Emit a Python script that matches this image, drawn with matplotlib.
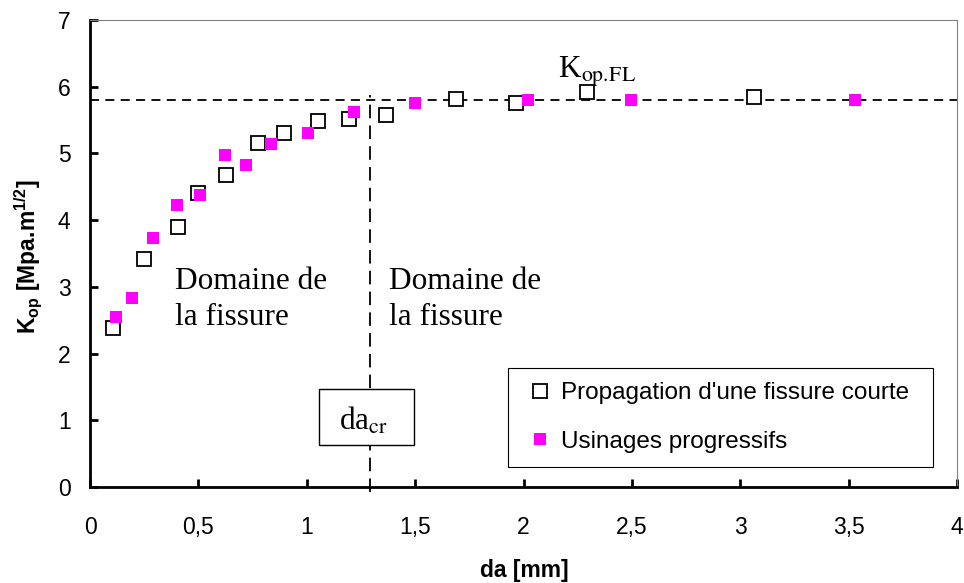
"""
Kop versus da: short crack propagation vs progressive machining.
"""
import matplotlib
matplotlib.use('Agg')
import matplotlib.pyplot as plt
from matplotlib.patches import Rectangle

plt.rcParams['font.family'] = ['Liberation Sans', 'DejaVu Sans']
plt.rcParams['mathtext.fontset'] = 'custom'
plt.rcParams['mathtext.rm'] = 'Liberation Sans'
plt.rcParams['mathtext.bf'] = 'Liberation Sans:bold'

# 1. Data
da_court = [0.107, 0.25, 0.405, 0.498, 0.626, 0.777, 0.897, 1.05, 1.196, 1.367,
            1.687, 1.965, 2.294, 3.063]
kop_court = [2.38, 3.42, 3.90, 4.40, 4.67, 5.15, 5.30, 5.49, 5.52, 5.57,
             5.82, 5.75, 5.92, 5.84]

da_usin = [0.12, 0.192, 0.292, 0.40, 0.507, 0.623, 0.72, 0.837, 1.004, 1.219,
           1.498, 2.019, 2.496, 3.53]
kop_usin = [2.55, 2.83, 3.73, 4.23, 4.37, 4.98, 4.83, 5.14, 5.30, 5.62,
            5.75, 5.80, 5.80, 5.80]

kop_fl = 5.80
da_cr = 1.29

xticks = [0, 0.5, 1, 1.5, 2, 2.5, 3, 3.5, 4]
xticklabels = ['0', '0,5', '1', '1,5', '2', '2,5', '3', '3,5', '4']
yticks = [0, 1, 2, 3, 4, 5, 6, 7]

# 2. Figure
fig = plt.figure(figsize=(9.64, 5.83), dpi=100)
ax = fig.add_axes([0.0934, 0.1647, 0.8994, 0.801])

ax.plot(da_court, kop_court, ls='none', marker='s', markersize=9.8,
        markerfacecolor='white', markeredgecolor='black', markeredgewidth=1.3,
        label="Propagation d'une fissure courte", zorder=3)
ax.plot(da_usin, kop_usin, ls='none', marker='s', markersize=9,
        markerfacecolor='#FF00FF', markeredgecolor='#FF00FF', markeredgewidth=0,
        label='Usinages progressifs', zorder=4)

# reference lines
ax.axhline(kop_fl, color='black', lw=1.3, dashes=(5, 3.5), zorder=2)
ax.plot([da_cr, da_cr], [-0.08, 5.87], color='black', lw=1.3, dashes=(7.5, 4),
        clip_on=False, zorder=2)

# annotations (Times)
serif = dict(family=['Liberation Serif', 'DejaVu Serif'], fontsize=22.5,
             math_fontfamily='stix')
ax.text(0.392, 3.30, 'Domaine de\nla fissure', ha='left', va='top',
        linespacing=1.33, **serif)
ax.text(1.381, 3.30, 'Domaine de\nla fissure', ha='left', va='top',
        linespacing=1.33, **serif)
ax.text(2.16, 6.127, r'K$_{\mathrm{op.\!FL}}$', ha='left', va='baseline', **serif)

ax.add_patch(Rectangle((1.057, 0.63), 0.438, 0.835, facecolor='white',
                       edgecolor='black', lw=1.0, zorder=5))
ax.text(1.15, 0.854, r'da$_{\mathrm{cr}}$', ha='left', va='baseline',
        zorder=6, **serif)

# axes styling
ax.set_xlim(0, 4)
ax.set_ylim(0, 7)
ax.set_xticks(xticks)
ax.set_xticklabels(xticklabels)
ax.set_yticks(yticks)
ax.tick_params(direction='in', length=6, width=2, labelsize=16.5)
ax.tick_params(axis='x', pad=21)
ax.tick_params(axis='y', pad=14)
for side in ['left', 'bottom']:
    ax.spines[side].set_linewidth(2)
    ax.spines[side].set_color('black')
for side in ['top', 'right']:
    ax.spines[side].set_linewidth(0.8)
    ax.spines[side].set_color('#808080')

fig.text(28.5 / 964, 1 - 257 / 583, r'K$_{\mathbf{op}}$ [Mpa.m$^{\mathbf{1/2}}$]',
         rotation=90, ha='center', va='center', fontsize=16.5, fontweight='bold')
fig.text(524.7 / 964, 1 - 570 / 583, 'da [mm]', ha='center', va='center',
         fontsize=16.5, fontweight='bold')

leg = ax.legend(loc='center left', bbox_to_anchor=(0.482, 0.0435, 0.49, 0.2105),
                mode='expand', fontsize=17.5, frameon=True, fancybox=False,
                framealpha=1, edgecolor='black', borderpad=0.6,
                handlelength=1.4, handletextpad=0.2, labelspacing=1.1,
                borderaxespad=0)
leg.get_frame().set_linewidth(0.8)

fig.savefig('out.png', dpi=100)
